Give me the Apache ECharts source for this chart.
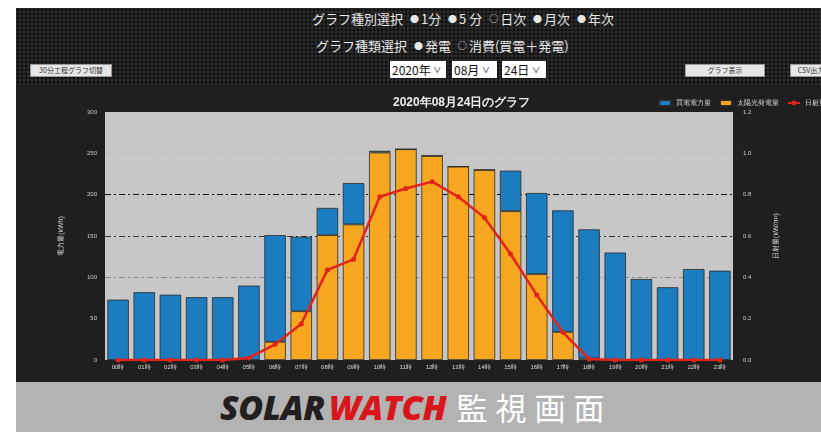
<!DOCTYPE html>
<html>
<head>
<meta charset="utf-8">
<title>SOLAR WATCH</title>
<script src="https://cdn.jsdelivr.net/npm/echarts@6/dist/echarts.min.js"></script>
<style>
  body { margin: 0; background: #fff; font-family: "Noto Sans CJK JP", "Noto Sans", sans-serif; }
  #screen { position: absolute; left: 16px; top: 8px; width: 805px; height: 374px; background: #1f1f1f; overflow: hidden; }
  #head { position: absolute; left: 0; top: 0; width: 805px; height: 78px;
          background-color: #2a2a2a;
          background-image: radial-gradient(circle, #0c0c0c 1.2px, transparent 1.7px);
          background-size: 4px 4px; }
  .line { position: absolute; color: #e8e8e8; font-size: 13px; white-space: nowrap; line-height: 16px; }
  .rb { font-size: 9px; vertical-align: 2px; margin: 0 2px 0 4px; }
  .btn { position: absolute; background: #e6e6e6; border: 1px solid #999; color: #333; font-size: 7px;
         line-height: 11px; text-align: center; white-space: nowrap; overflow: hidden; }
  .sel { position: absolute; background: #fff; color: #111; font-size: 12px; line-height: 17px; height: 17px;
         padding-left: 2px; white-space: nowrap; }
  .sel small { font-size: 8px; vertical-align: 2px; }
  #main { position: absolute; left: 16px; top: 86px; width: 805px; height: 296px; }
  #banner { position: absolute; left: 16px; top: 382px; width: 805px; height: 50px; background: #b3b3b3;
            line-height: 50px; white-space: nowrap; }
  .logo { font-family: "Open Sans", sans-serif; font-weight: 800; font-style: italic; font-size: 34px; letter-spacing: -0.3px; }
  .kanji { color: #fff; font-size: 31px; letter-spacing: 8px; margin-left: 10px; font-family: "Noto Sans CJK JP", sans-serif; }
</style>
</head>
<body>
<div id="screen">
  <div id="head">
    <div class="line" style="left:296px;top:3px;">グラフ種別選択 <span class="rb">●</span>1分 <span class="rb">●</span>5 分 <span class="rb">○</span>日次 <span class="rb">●</span>月次 <span class="rb">●</span>年次</div>
    <div class="line" style="left:300px;top:30px;">グラフ種類選択 <span class="rb">●</span>発電 <span class="rb">○</span>消費(買電＋発電)</div>
    <div class="btn" style="left:14px;top:56px;width:80px;height:11px;">30分工程グラフ切替</div>
    <div class="sel" style="left:374px;top:53px;width:54px;">2020年 <small>∨</small></div>
    <div class="sel" style="left:436px;top:53px;width:43px;">08月 <small>∨</small></div>
    <div class="sel" style="left:486px;top:53px;width:42px;">24日 <small>∨</small></div>
    <div class="btn" style="left:669px;top:56px;width:78px;height:11px;">グラフ表示</div>
    <div class="btn" style="left:774px;top:56px;width:40px;height:11px;">CSV出力</div>
  </div>
</div>
<div id="main"></div>
<div id="banner"><span style="position:absolute;left:204px;"><span class="logo" style="color:#231f20;">SOLAR</span> <span class="logo" style="color:#d8161c;">WATCH</span><span class="kanji">監視画面</span></span></div>

<script type="text/javascript">
// 時間帯
var hours = ['00時','01時','02時','03時','04時','05時','06時','07時','08時','09時','10時','11時',
             '12時','13時','14時','15時','16時','17時','18時','19時','20時','21時','22時','23時'];
// 太陽光発電量 (kWh)
var hatsuden = [0, 0, 0, 0, 0, 0, 22, 59, 151, 164, 251, 255, 247, 234, 230, 180, 104, 34, 2, 0, 0, 0, 0, 0];
// 買電電力量 (kWh)
var baiden = [73, 82, 79, 76, 76, 90, 129, 90, 33, 50, 2, 0, 0, 0, 0, 49, 98, 147, 156, 130, 98, 88, 110, 108];
// 日射量
var nissha = [0, 0, 0, 0, 0, 0.01, 0.076, 0.174, 0.436, 0.487, 0.79, 0.83, 0.863, 0.79, 0.689, 0.513, 0.315, 0.134, 0.005, 0, 0, 0, 0, 0];

var myChart = echarts.init(document.getElementById('main'));
myChart.setOption({
    backgroundColor: '#1f1f1f',
    title: {
        text: '2020年08月24日のグラフ',
        left: 372, top: 6,
        textStyle: { color: '#f0f0f0', fontSize: 12, fontWeight: 'bold' }
    },
    legend: {
        left: 637, top: 8, width: 400,
        itemWidth: 12, itemHeight: 6, itemGap: 8,
        textStyle: { color: '#ddd', fontSize: 7 },
        data: ['買電電力量', '太陽光発電量', '日射量(kW/m²)']
    },
    grid: { left: 89, right: 88, top: 26, bottom: 22, show: true, backgroundColor: '#c7c7c7', borderWidth: 0 },
    xAxis: {
        type: 'category',
        data: hours,
        axisLine: { lineStyle: { color: '#222' } },
        axisTick: { show: false },
        axisLabel: { color: '#ddd', fontSize: 6, margin: 4, interval: 0 }
    },
    yAxis: [{
        type: 'value', min: 0, max: 300, interval: 50,
        name: '電力量(kWh)', nameLocation: 'middle', nameGap: 40, nameRotate: 90,
        nameTextStyle: { color: '#ddd', fontSize: 7 },
        axisLine: { show: false }, axisTick: { show: false },
        axisLabel: { color: '#ccc', fontSize: 6, margin: 8 },
        splitLine: { lineStyle: { type: [6, 3, 2, 3], width: 1,
            color: ['transparent', 'transparent', '#8a8a8a', '#333', '#111', '#b9b9b9', 'transparent'] } }
    }, {
        type: 'value', min: 0, max: 1.2, interval: 0.2,
        name: '日射量(kW/m²)', nameLocation: 'middle', nameGap: 40, nameRotate: 90,
        nameTextStyle: { color: '#ddd', fontSize: 7 },
        axisLine: { show: false }, axisTick: { show: false },
        axisLabel: { color: '#ccc', fontSize: 6, margin: 10, formatter: function (v) { return v.toFixed(1); } },
        splitLine: { show: false }
    }],
    series: [{
        name: '太陽光発電量', type: 'bar', stack: 'kwh',
        barCategoryGap: '18%',
        itemStyle: { color: '#f6a61f', borderColor: '#2a2a2a', borderWidth: 0.8 },
        data: hatsuden
    }, {
        name: '買電電力量', type: 'bar', stack: 'kwh',
        itemStyle: { color: '#1b7cc0', borderColor: '#2a2a2a', borderWidth: 0.8 },
        data: baiden
    }, {
        name: '日射量(kW/m²)', type: 'line', yAxisIndex: 1,
        symbol: 'circle', symbolSize: 5,
        lineStyle: { color: '#e2231a', width: 2.5 },
        itemStyle: { color: '#e2231a' },
        data: nissha
    }]
});
</script>
</body>
</html>
